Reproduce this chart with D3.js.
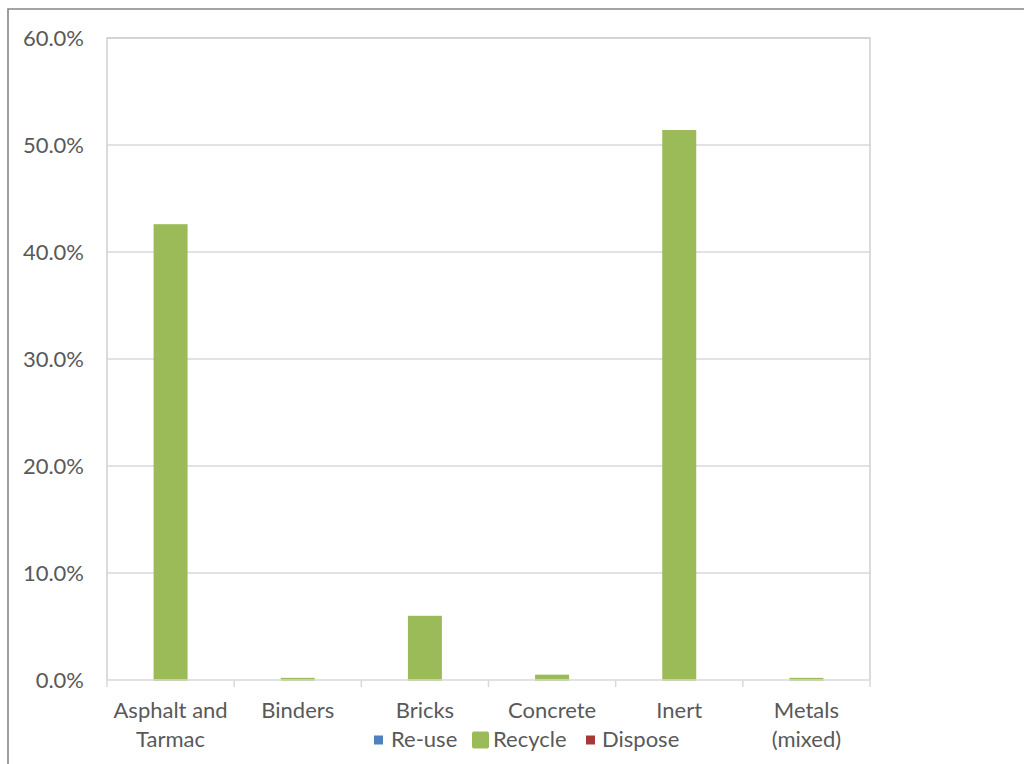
<!DOCTYPE html>
<html>
<head>
<meta charset="utf-8">
<script src="https://cdn.jsdelivr.net/npm/d3@7"></script>
<style>
  html, body { margin: 0; padding: 0; background: #ffffff; }
  svg { display: block; }
  text { font-family: Lato, "Open Sans", sans-serif; fill: #595959; }
</style>
</head>
<body>
<svg id="chart" width="1024" height="764"></svg>
<script>
// Share of construction waste by material and treatment route
const categories = ["Asphalt and Tarmac", "Binders", "Bricks", "Concrete", "Inert", "Metals (mixed)"];
const categoryLines = [["Asphalt and", "Tarmac"], ["Binders"], ["Bricks"], ["Concrete"], ["Inert"], ["Metals", "(mixed)"]];
const seriesNames = ["Re-use", "Recycle", "Dispose"];
const seriesColors = ["#4F81BD", "#9BBB59", "#A33A37"];
const reuseValues = [0, 0, 0, 0, 0, 0];
const recycleValues = [0.426, 0.002, 0.060, 0.005, 0.514, 0.002];
const disposeValues = [0, 0, 0, 0, 0, 0];
const yTickValues = [0, 0.1, 0.2, 0.3, 0.4, 0.5, 0.6];

const seriesValues = [reuseValues, recycleValues, disposeValues];

const svg = d3.select("#chart");
const plot = { left: 107, right: 870, top: 38, bottom: 680 };
const fontSize = "22px";

// Outer chart frame
svg.append("path")
  .attr("d", "M8,764 L8,9 L1024,9")
  .attr("fill", "none")
  .attr("stroke", "#868686")
  .attr("stroke-width", 1.6);

const x0 = d3.scaleBand().domain(categories).range([plot.left, plot.right]).paddingInner(0).paddingOuter(0);
const x1 = d3.scaleBand().domain(seriesNames).range([0, x0.bandwidth()]).paddingInner(0).paddingOuter(0.37);
const y = d3.scaleLinear().domain([0, 0.6]).range([plot.bottom, plot.top]);

// Horizontal gridlines
svg.append("g")
  .selectAll("line")
  .data(yTickValues.filter(v => v > 0))
  .join("line")
  .attr("x1", plot.left).attr("x2", plot.right)
  .attr("y1", d => y(d)).attr("y2", d => y(d))
  .attr("stroke", "#d9d9d9").attr("stroke-width", 1.3);

// Plot area border (left, top, right)
svg.append("path")
  .attr("d", `M${plot.left},${plot.bottom} L${plot.left},${plot.top} L${plot.right},${plot.top} L${plot.right},${plot.bottom}`)
  .attr("fill", "none")
  .attr("stroke", "#d0d0d0")
  .attr("stroke-width", 1.5);

// Y axis labels
const yAxis = d3.axisLeft(y).tickValues(yTickValues).tickFormat(d3.format(".1%")).tickSize(0).tickPadding(23);
const yg = svg.append("g").attr("transform", `translate(${plot.left},0)`).call(yAxis);
yg.select(".domain").remove();
yg.selectAll("text")
  .style("font-family", "Lato, 'Open Sans', sans-serif")
  .style("font-size", fontSize)
  .attr("fill", "#595959");

// Bars (zero values are left undrawn)
const groups = svg.append("g")
  .selectAll("g")
  .data(categories)
  .join("g")
  .attr("transform", d => `translate(${x0(d)},0)`);

groups.selectAll("rect")
  .data((d, i) => seriesNames
    .map((s, j) => ({ series: s, value: seriesValues[j][i], color: seriesColors[j] }))
    .filter(d => d.value > 0))
  .join("rect")
  .attr("x", d => x1(d.series))
  .attr("width", x1.bandwidth())
  .attr("y", d => y(d.value))
  .attr("height", d => y(0) - y(d.value) + 1)
  .attr("fill", d => d.color);

// Category axis baseline and tick marks at band boundaries
svg.append("line")
  .attr("x1", plot.left).attr("x2", plot.right)
  .attr("y1", plot.bottom).attr("y2", plot.bottom)
  .attr("stroke", "#d9d9d9").attr("stroke-width", 1.5);

const boundaries = categories.map(c => x0(c)).concat([plot.right]);
svg.append("g")
  .selectAll("line")
  .data(boundaries)
  .join("line")
  .attr("x1", d => d).attr("x2", d => d)
  .attr("y1", plot.bottom).attr("y2", plot.bottom + 7)
  .attr("stroke", "#d9d9d9").attr("stroke-width", 1.5);

// Category labels
const labels = svg.append("g")
  .selectAll("text")
  .data(categories)
  .join("text")
  .attr("x", d => x0(d) + x0.bandwidth() / 2)
  .attr("y", 718)
  .attr("text-anchor", "middle")
  .style("font-size", fontSize);
labels.each(function (d, i) {
  const t = d3.select(this);
  categoryLines[i].forEach((line, k) => {
    t.append("tspan")
      .attr("x", x0(d) + x0.bandwidth() / 2)
      .attr("dy", k === 0 ? 0 : 29)
      .text(line);
  });
});

// Legend
const legendItems = [
  { name: seriesNames[0], color: seriesColors[0], mx: 374, size: 9, tx: 391 },
  { name: seriesNames[1], color: seriesColors[1], mx: 472, size: 17, tx: 493 },
  { name: seriesNames[2], color: seriesColors[2], mx: 586, size: 9, tx: 602 }
];
const legend = svg.append("g");
legend.selectAll("rect")
  .data(legendItems)
  .join("rect")
  .attr("x", d => d.mx)
  .attr("y", d => 740 - d.size / 2)
  .attr("width", d => d.size)
  .attr("height", d => d.size)
  .attr("rx", d => d.size > 10 ? 2 : 0)
  .attr("fill", d => d.color);
legend.selectAll("text")
  .data(legendItems)
  .join("text")
  .attr("x", d => d.tx)
  .attr("y", 747)
  .style("font-size", fontSize)
  .text(d => d.name);
</script>
</body>
</html>
